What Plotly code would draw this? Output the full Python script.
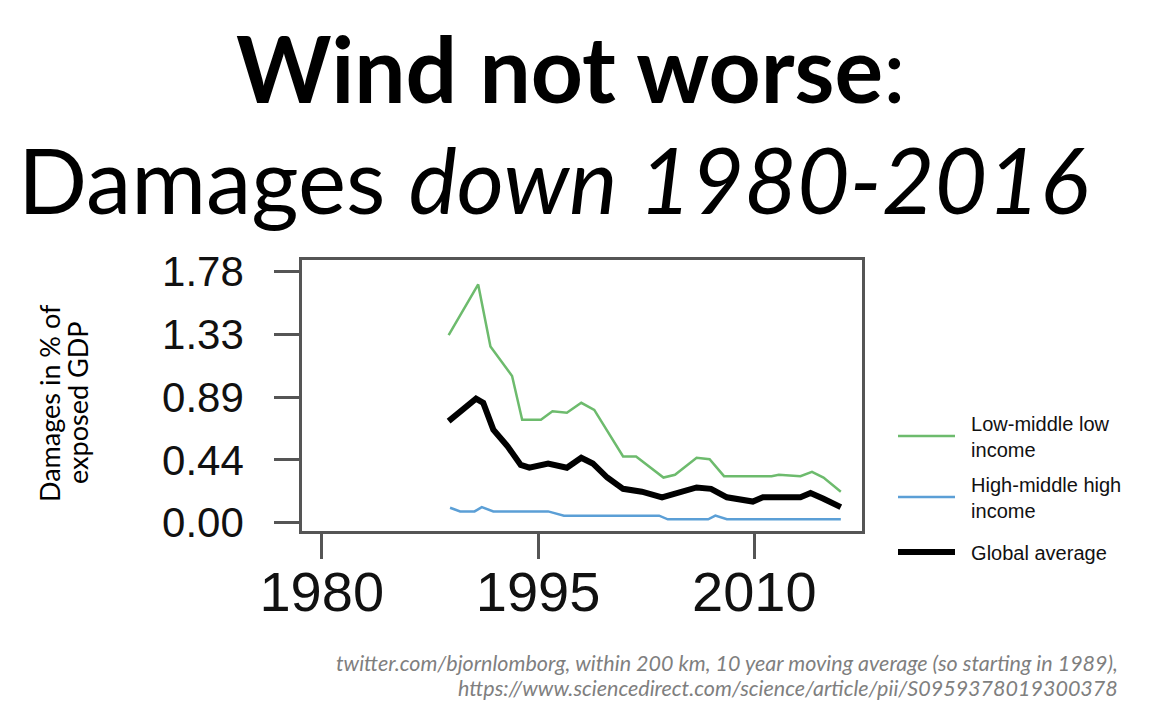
import plotly.graph_objects as go

# ---- data ----
low_years = [1988.8, 1990.85, 1991.7, 1993.2, 1993.9, 1995.2, 1996.0, 1997.0, 1998.0, 1998.9,
             2000.9, 2001.8, 2003.7, 2004.5, 2006.0, 2006.9, 2007.9, 2011.2, 2011.7, 2013.2,
             2014.0, 2014.8, 2016.0]
low_vals = [1.33, 1.69, 1.25, 1.04, 0.73, 0.73, 0.79, 0.78, 0.85, 0.80,
            0.47, 0.47, 0.32, 0.34, 0.46, 0.45, 0.33, 0.33, 0.34, 0.33,
            0.36, 0.32, 0.22]

high_years = [1988.9, 1989.6, 1990.6, 1991.1, 1991.9, 1995.7, 1996.8, 2003.4, 2004.0, 2006.8,
              2007.3, 2008.1, 2016.0]
high_vals = [0.106, 0.08, 0.08, 0.11, 0.08, 0.08, 0.05, 0.05, 0.024, 0.024,
             0.05, 0.024, 0.024]

glob_years = [1988.8, 1989.6, 1990.7, 1991.2, 1991.9, 1992.9, 1993.8, 1994.4, 1995.7, 1997.0,
              1998.0, 1998.8, 1999.8, 2000.9, 2002.2, 2003.6, 2004.7, 2006.0, 2007.0, 2008.1,
              2009.9, 2010.6, 2013.2, 2013.9, 2014.8, 2016.0]
glob_vals = [0.72, 0.79, 0.88, 0.85, 0.66, 0.54, 0.41, 0.39, 0.42, 0.39,
             0.46, 0.42, 0.32, 0.24, 0.22, 0.18, 0.21, 0.25, 0.24, 0.18,
             0.15, 0.18, 0.18, 0.21, 0.17, 0.11]

x_ticks = [1980, 1995, 2010]
y_ticks = [0.00, 0.445, 0.89, 1.335, 1.78]
y_tick_labels = ["0.00", "0.44", "0.89", "1.33", "1.78"]

sp = "&nbsp;&nbsp;"
names = [sp + "Low-middle low<br>" + sp + "income",
         sp + "High-middle high<br>" + sp + "income",
         sp + "Global average"]

OFF = 8  # page body margin
W, H = 1159 - OFF, 713 - OFF
L, R, T, B = 302 - OFF, 862 - OFF, 260 - OFF, 531 - OFF


def px(xp):
    return (xp - OFF - L) / (R - L)


def py(yp):
    return (B - (yp - OFF)) / (B - T)


fig = go.Figure()
fig.add_trace(go.Scatter(x=low_years, y=low_vals, mode="lines", name=names[0],
                         line=dict(color="#6dbb6d", width=2.5), legend="legend"))
fig.add_trace(go.Scatter(x=high_years, y=high_vals, mode="lines", name=names[1],
                         line=dict(color="#5b9fd6", width=2.5), legend="legend2"))
fig.add_trace(go.Scatter(x=glob_years, y=glob_vals, mode="lines", name=names[2],
                         line=dict(color="#000000", width=6), legend="legend3"))

axis_common = dict(showline=True, linecolor="#555555", linewidth=2.5, mirror=True,
                   showgrid=False, zeroline=False, ticks="outside", ticklen=25,
                   tickwidth=2.5, tickcolor="#555555")

fig.update_xaxes(range=[1978.63, 2017.47], tickvals=x_ticks,
                 tickfont=dict(family="Liberation Sans", size=56, color="#111111"),
                 ticklabelstandoff=-15, **axis_common)
fig.update_yaxes(range=[-0.059, 1.863], tickvals=y_ticks, ticktext=y_tick_labels,
                 tickfont=dict(family="Liberation Sans", size=42, color="#111111"),
                 ticklabelstandoff=22, **axis_common)

leg_common = dict(xanchor="left", yanchor="middle", itemwidth=57,
                  font=dict(family="Liberation Sans", size=20, color="#111111"),
                  bgcolor="rgba(0,0,0,0)")

fig.update_layout(
    width=W, height=H,
    margin=dict(l=L, r=W - R, t=T, b=H - B, pad=0),
    paper_bgcolor="white", plot_bgcolor="white",
    showlegend=True,
    legend=dict(x=px(893), y=py(436), **leg_common),
    legend2=dict(x=px(893), y=py(497), **leg_common),
    legend3=dict(x=px(893), y=py(552), **leg_common),
    annotations=[
        dict(text="<b>Wind not worse</b>:", x=px(571), y=py(67),
             xanchor="center", yanchor="middle",
             font=dict(family="Lato", size=91, color="black")),
        dict(text="Damages <i>down 1980-2016</i>", x=px(553), y=py(178),
             xanchor="center", yanchor="middle",
             font=dict(family="Lato", size=91, color="black")),
        dict(text="Damages in % of", x=px(49), y=py(403),
             xanchor="center", yanchor="middle", textangle=-90,
             font=dict(family="Lato", size=27, color="black")),
        dict(text="exposed GDP", x=px(77), y=py(403),
             xanchor="center", yanchor="middle", textangle=-90,
             font=dict(family="Lato", size=27, color="black")),
        dict(text="<i>twitter.com/bjornlomborg, within 200 km, 10 year moving average (so starting in 1989),</i>",
             x=px(1120), y=py(663), xanchor="right", yanchor="middle",
             font=dict(family="Lato", size=21.5, color="#7f7f7f")),
        dict(text="<i>https://www.sciencedirect.com/science/article/pii/S0959378019300378</i>",
             x=px(1120), y=py(688), xanchor="right", yanchor="middle",
             font=dict(family="Lato", size=21.5, color="#7f7f7f")),
    ],
)
for a in fig.layout.annotations:
    a.xref = "paper"
    a.yref = "paper"
    a.showarrow = False

fig.write_html("out.html")
